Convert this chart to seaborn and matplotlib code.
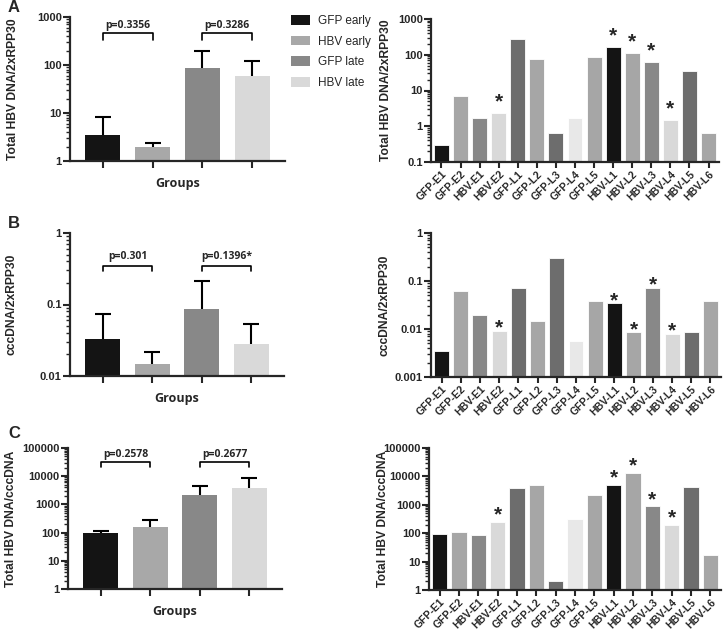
import numpy as np
import pandas as pd
import matplotlib
matplotlib.use("Agg")
import matplotlib.pyplot as plt
from matplotlib.patches import Patch
from matplotlib.ticker import LogLocator, NullFormatter, FuncFormatter
from matplotlib.transforms import blended_transform_factory
import seaborn as sns

# ---------------- data ----------------
groups = ["GFP early", "HBV early", "GFP late", "HBV late"]
group_colors = ["#141414", "#a8a8a8", "#888888", "#d9d9d9"]

a_mean = [3.5, 1.95, 85, 60]
a_upper = [8.2, 2.4, 195, 122]
b_mean = [0.0326, 0.0145, 0.086, 0.028]
b_upper = [0.0747, 0.022, 0.211, 0.053]
c_mean = [95, 163, 2200, 3700]
c_upper = [115, 288, 4470, 8750]

p_a = ["p=0.3356", "p=0.3286"]
p_b = ["p=0.301", "p=0.1396*"]
p_c = ["p=0.2578", "p=0.2677"]

samples = ["GFP-E1", "GFP-E2", "HBV-E1", "HBV-E2", "GFP-L1", "GFP-L2", "GFP-L3",
           "GFP-L4", "GFP-L5", "HBV-L1", "HBV-L2", "HBV-L3", "HBV-L4", "HBV-L5", "HBV-L6"]
sample_colors = ["#141414", "#a6a6a6", "#888888", "#d9d9d9", "#6d6d6d", "#a6a6a6",
                 "#6d6d6d", "#e8e8e8", "#a6a6a6", "#141414", "#a6a6a6", "#888888",
                 "#d9d9d9", "#6d6d6d", "#a6a6a6"]
a_samples = [0.30, 7.0, 1.65, 2.3, 280, 74, 0.63, 1.7, 85, 168, 112, 63, 1.5, 36, 0.66]
b_samples = [0.0034, 0.063, 0.020, 0.0091, 0.073, 0.0145, 0.30, 0.0055, 0.039,
             0.0345, 0.0085, 0.0715, 0.0079, 0.0085, 0.0378]
c_samples = [90, 111, 83, 255, 3850, 5050, 2.1, 305, 2150, 4900, 13000, 880, 195, 4200, 17.5]
starred = ["HBV-E2", "HBV-L1", "HBV-L2", "HBV-L3", "HBV-L4"]

# ---------------- style ----------------
sns.set_style("ticks")
plt.rcParams["font.family"] = ["Liberation Sans", "DejaVu Sans"]
plt.rcParams["axes.linewidth"] = 1.6

W, H = 727, 634
fig = plt.figure(figsize=(W / 100, H / 100), dpi=100)


def px_axes(x0, y0, x1, y1):
    return fig.add_axes([x0 / W, 1 - y1 / H, (x1 - x0) / W, (y1 - y0) / H])


def place_ylabel(ax, text, center_px):
    ax.set_ylabel(text, fontsize=8.7, fontweight="bold")
    # ylabel anchor is the baseline side (right side when rotated); glyph height ~12px
    tr = blended_transform_factory(fig.transFigure, ax.transAxes)
    ax.yaxis.set_label_coords((center_px + 5) / W, 0.5, transform=tr)


def style_log_axis(ax, lo, hi):
    ax.set_yscale("log")
    ax.set_ylim(lo, hi)
    ax.yaxis.set_major_locator(LogLocator(base=10, numticks=20))
    ax.yaxis.set_minor_locator(LogLocator(base=10, subs=np.arange(2, 10), numticks=20))
    ax.yaxis.set_minor_formatter(NullFormatter())
    ax.yaxis.set_major_formatter(FuncFormatter(lambda v, _: f"{v:g}"))
    sns.despine(ax=ax)
    ax.tick_params(axis="y", which="major", length=5, width=1.5, labelsize=8, pad=1)
    ax.tick_params(axis="y", which="minor", length=3, width=1.0)
    ax.tick_params(axis="x", which="major", length=5, width=1.5, direction="out")
    for lab in ax.get_yticklabels():
        lab.set_fontweight("bold")


def group_panel(ax, mean, upper, lo, hi, ylabel, pvals, br_top, br_end, label_x):
    df = pd.DataFrame({"group": groups, "value": mean})
    sns.barplot(data=df, x="group", y="value", hue="group", palette=group_colors,
                width=0.7, legend=False, ax=ax, errorbar=None, linewidth=0,
                order=groups, hue_order=groups)
    style_log_axis(ax, lo, hi)
    xs = np.arange(len(groups))
    ax.vlines(xs, mean, upper, color="black", lw=1.5, zorder=1)
    ax.hlines(upper, xs - 0.16, xs + 0.16, color="black", lw=1.5, zorder=1)
    ax.set_xlim(-0.66, 3.66)
    ax.set_xticks(xs)
    ax.set_xticklabels([])
    ax.set_xlabel("Groups", fontsize=9, fontweight="bold", family=["Open Sans", "DejaVu Sans"],
                  labelpad=3)
    place_ylabel(ax, ylabel, label_x)
    for (i0, i1), txt in zip([(0, 1), (2, 3)], pvals):
        ax.plot([i0, i0, i1, i1], [br_end, br_top, br_top, br_end], color="black", lw=1.2,
                clip_on=False)
        ax.text((i0 + i1) / 2, br_top * 1.12, txt, ha="center", va="bottom", fontsize=7.5,
                fontweight="bold", family=["Open Sans", "DejaVu Sans"])


def sample_panel(ax, vals, lo, hi, ylabel, star_off, label_x):
    df = pd.DataFrame({"sample": samples, "value": vals})
    sns.barplot(data=df, x="sample", y="value", hue="sample", palette=sample_colors,
                width=0.78, legend=False, ax=ax, errorbar=None, linewidth=0.6,
                edgecolor="white", order=samples, hue_order=samples)
    style_log_axis(ax, lo, hi)
    ax.set_xlim(-0.55, len(samples) - 0.45)
    ax.tick_params(axis="x", length=4, width=1.5, pad=1)
    ax.set_xticks(np.arange(len(samples)))
    ax.set_xticklabels(samples, rotation=45, ha="right", rotation_mode="anchor",
                       fontsize=7.5, fontweight="bold")
    ax.set_xlabel("")
    place_ylabel(ax, ylabel, label_x)
    for i, s in enumerate(samples):
        if s in starred:
            ax.annotate("*", (i, vals[i]), xytext=(0, star_off), textcoords="offset points",
                        ha="center", va="center", fontsize=15, fontweight="bold")


# Panel A
axA1 = px_axes(70, 17, 285, 161)
group_panel(axA1, a_mean, a_upper, 1, 1000, "Total HBV DNA/2xRPP30", p_a, 464, 331, 14)
axA2 = px_axes(431, 19, 719, 162)
sample_panel(axA2, a_samples, 0.1, 1000, "Total HBV DNA/2xRPP30", 8, 387)

# Panel B
axB1 = px_axes(70, 233, 284, 376)
group_panel(axB1, b_mean, b_upper, 0.01, 1, "cccDNA/2xRPP30", p_b, 0.351, 0.292, 13)
axB2 = px_axes(431, 233, 721, 377)
sample_panel(axB2, b_samples, 0.001, 1, "cccDNA/2xRPP30", 2, 385)

# Panel C
axC1 = px_axes(68, 448, 282, 589)
group_panel(axC1, c_mean, c_upper, 1, 100000, "Total HBV DNA/cccDNA", p_c, 32300, 20400, 12)
axC2 = px_axes(429, 448, 721, 590)
sample_panel(axC2, c_samples, 1, 100000, "Total HBV DNA/cccDNA", 5, 384)

# Legend
handles = [Patch(facecolor=c, edgecolor="none", label=g) for g, c in zip(groups, group_colors)]
fig.legend(handles=handles, loc="upper left", bbox_to_anchor=(286 / W, 1 - 10 / H),
           frameon=False, fontsize=8.5, handlelength=1.6, handleheight=0.9,
           labelspacing=0.75, handletextpad=0.7, borderaxespad=0)

# Panel letters
for letter, (x, y) in zip("ABC", [(8, 8), (8, 223), (8, 433)]):
    fig.text(x / W, 1 - y / H, letter, fontsize=12, fontweight="bold", va="center", ha="left")

fig.savefig("out.png", dpi=100)
